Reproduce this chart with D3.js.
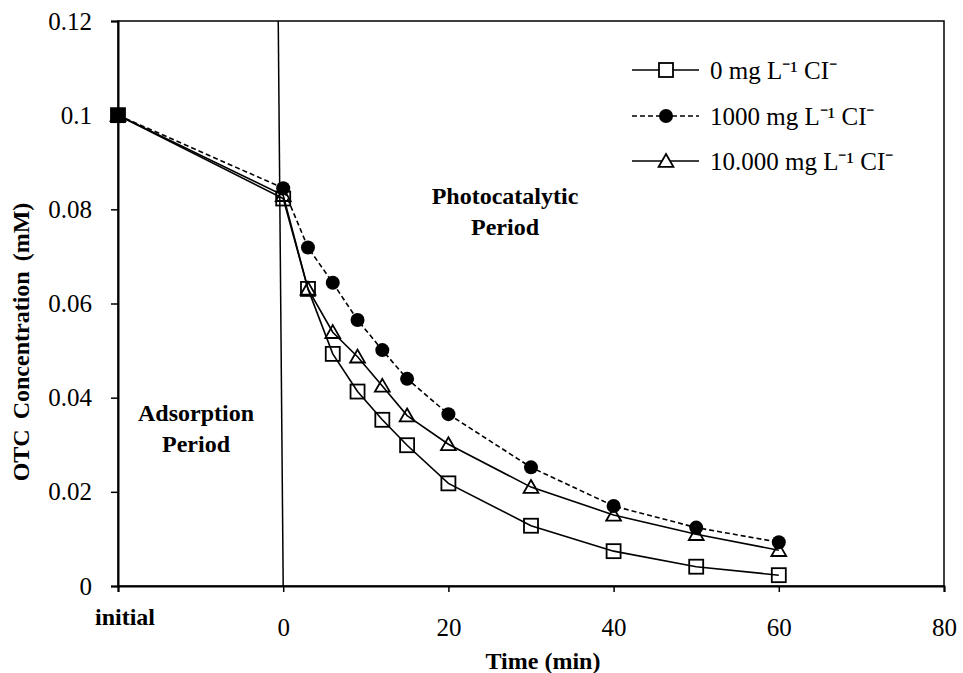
<!DOCTYPE html>
<html><head><meta charset="utf-8">
<script src="https://cdn.jsdelivr.net/npm/d3@7"></script>
<style>
body{margin:0;background:#fff;}
svg{display:block;font-family:"Liberation Serif","Times New Roman",serif;}
</style></head>
<body><svg id="chart" width="963" height="673"></svg>
<script>
// ---- data ----
const times = [-20, 0, 3, 6, 9, 12, 15, 20, 30, 40, 50, 60]; // -20 = "initial"
const seriesNames = ["0 mg L\u207B\u00B9 CI\u207B", "1000 mg L\u207B\u00B9 CI\u207B", "10.000 mg L\u207B\u00B9 CI\u207B"];
const cl0     = [0.1, 0.0823, 0.0631, 0.0493, 0.0413, 0.0353, 0.0299, 0.0218, 0.0128, 0.0074, 0.0041, 0.0023];
const cl1000  = [0.1, 0.0845, 0.0719, 0.0644, 0.0565, 0.0501, 0.0440, 0.0365, 0.0252, 0.0170, 0.0124, 0.0093];
const cl10000 = [0.1, 0.0830, 0.0631, 0.0539, 0.0487, 0.0425, 0.0362, 0.0301, 0.0210, 0.0151, 0.0110, 0.0076];
const xTicks = [0, 20, 40, 60, 80];
const yTicks = [0, 0.02, 0.04, 0.06, 0.08, 0.1, 0.12];
const initialTick = -20;
const dividerX = [-0.6, 0];   // top, bottom of the period divider (data units)

const svg = d3.select("#chart");
const x = d3.scaleLinear().domain([-20, 80]).range([118, 944]);
const y = d3.scaleLinear().domain([0, 0.12]).range([586, 21]);

// frame
svg.append("rect").attr("x", x(-20)).attr("y", y(0.12))
  .attr("width", x(80) - x(-20)).attr("height", y(0) - y(0.12))
  .attr("fill", "none").attr("stroke", "#000").attr("stroke-width", 1.5);

// axes
const xAxis = svg.append("g").attr("transform", `translate(0,${y(0)})`)
  .call(d3.axisBottom(x).tickValues([initialTick, ...xTicks]).tickSize(6).tickFormat(d => d === initialTick ? "" : d));
xAxis.attr("font-family", null);
xAxis.select(".domain").attr("stroke-width", 2);
xAxis.selectAll(".tick line").attr("stroke-width", 1.5);
xAxis.selectAll(".tick text").attr("font-size", 25).attr("dy", 0).attr("y", 50);

const yAxis = svg.append("g").attr("transform", `translate(${x(-20)},0)`)
  .call(d3.axisLeft(y).tickValues(yTicks).tickSize(7).tickFormat(d => d3.format("")(+d.toFixed(2))));
yAxis.attr("font-family", null);
yAxis.select(".domain").attr("stroke-width", 2);
yAxis.selectAll(".tick line").attr("stroke-width", 1.5);
yAxis.selectAll(".tick text").attr("font-size", 25).attr("x", -26);

// "initial" label
svg.append("text").attr("x", x(initialTick) + 7).attr("y", 625).attr("text-anchor", "middle")
  .attr("font-size", 24).attr("font-weight", "bold").text("initial");

// axis titles
svg.append("text").attr("x", 543).attr("y", 669).attr("text-anchor", "middle")
  .attr("font-size", 24).attr("font-weight", "bold").text("Time (min)");
svg.append("text").attr("transform", "translate(29,342) rotate(-90)").attr("text-anchor", "middle")
  .attr("font-size", 24).attr("font-weight", "bold").attr("word-spacing", 4).text("OTC Concentration  (mM)");

// divider
svg.append("line").attr("x1", x(dividerX[0])).attr("y1", y(0.12)).attr("x2", x(dividerX[1])).attr("y2", y(0))
  .attr("stroke", "#000").attr("stroke-width", 1.5);

// period annotations
const ann = [["Photocatalytic", 505, 204], ["Period", 505, 235], ["Adsorption", 196, 421], ["Period", 196, 452]];
svg.selectAll(".ann").data(ann).enter().append("text").attr("class", "ann")
  .attr("x", d => d[1]).attr("y", d => d[2]).attr("text-anchor", "middle")
  .attr("font-size", 24).attr("font-weight", "bold").text(d => d[0]);

// series
const series = [
  {vals: cl0, dash: null, marker: "square"},
  {vals: cl10000, dash: null, marker: "triangle"},
  {vals: cl1000, dash: "5,3", marker: "circle"}
];
const line = d3.line().x(d => x(d[0])).y(d => y(d[1]));
function drawMarker(g, type, cx, cy, filledFirst) {
  if (type === "square") {
    g.append("rect").attr("x", cx - 7).attr("y", cy - 7).attr("width", 14).attr("height", 14)
      .attr("fill", filledFirst ? "#000" : "none").attr("stroke", "#000").attr("stroke-width", 1.8);
  } else if (type === "circle") {
    g.append("circle").attr("cx", cx).attr("cy", cy).attr("r", 7).attr("fill", "#000");
  } else {
    g.append("path").attr("d", d3.symbol().type(d3.symbolTriangle).size(95)())
      .attr("transform", `translate(${cx},${cy + 1.5})`)
      .attr("fill", "none").attr("stroke", "#000").attr("stroke-width", 1.8);
  }
}
series.forEach(s => {
  const pts = times.map((t, i) => [t, s.vals[i]]);
  svg.append("path").datum(pts).attr("d", line).attr("fill", "none").attr("stroke", "#000")
    .attr("stroke-width", 1.6).attr("stroke-dasharray", s.dash);
});
series.forEach(s => {
  const g = svg.append("g");
  times.forEach((t, i) => drawMarker(g, s.marker, x(t), y(s.vals[i]), s.marker === "square" && i === 0));
});

// legend
const legendItems = [
  {name: seriesNames[0], dash: null, marker: "square", yy: 70},
  {name: seriesNames[1], dash: "5,3", marker: "circle", yy: 116},
  {name: seriesNames[2], dash: null, marker: "triangle", yy: 161}
];
legendItems.forEach(it => {
  const g = svg.append("g");
  g.append("line").attr("x1", 632).attr("x2", 699).attr("y1", it.yy).attr("y2", it.yy)
    .attr("stroke", "#000").attr("stroke-width", 1.6).attr("stroke-dasharray", it.dash);
  if (it.marker === "square") {
    g.append("rect").attr("x", 659).attr("y", it.yy - 7).attr("width", 14).attr("height", 14)
      .attr("fill", "#fff").attr("stroke", "#000").attr("stroke-width", 1.8);
  } else drawMarker(g, it.marker, 666, it.yy, false);
  if (it.marker === "triangle") g.select("path").attr("fill", "#fff");
  g.append("text").attr("x", 710).attr("y", it.yy).attr("dy", "0.35em")
    .attr("font-size", 25).text(it.name);
});
</script></body></html>
